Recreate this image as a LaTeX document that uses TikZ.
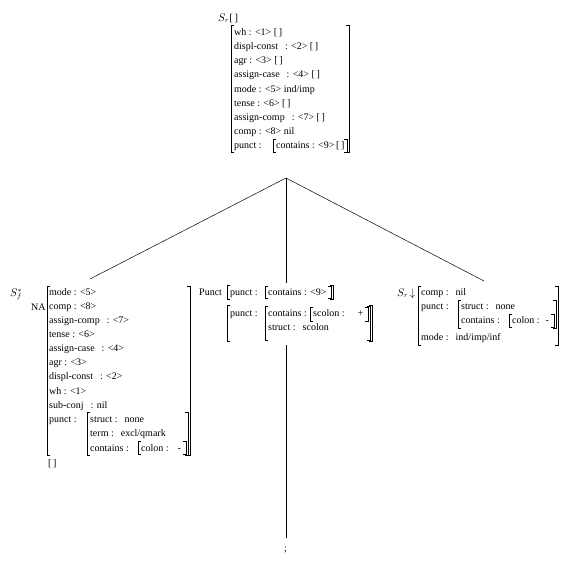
\documentclass[tikz,border=0pt]{standalone}
\usepackage{fontspec}
\setmainfont{Liberation Serif}
\begin{document}
\begin{tikzpicture}[x=1pt,y=-1pt,
  txt/.style={anchor=base west,inner sep=0pt,font=\fontsize{10}{12}\selectfont},
  lab/.style={anchor=base west,inner sep=0pt,font=\fontsize{10.5}{12}\selectfont},
  br/.style={line width=0.6pt},
  edge/.style={line width=0.5pt}]
\useasboundingbox (0,0) rectangle (571,563);
\newcommand{\avmL}[3]{\draw[br] (#1+3,#2) -- (#1,#2) -- (#1,#3) -- (#1+3,#3);}
\newcommand{\avmR}[3]{\draw[br] (#1-3,#2) -- (#1,#2) -- (#1,#3) -- (#1-3,#3);}
\newcommand{\gp}{\hspace{7pt}}
% ---------- root ----------
\node[lab] (root) at (218,21) {$S_r$[\,]};
\avmL{231}{25}{152}\avmR{349}{25}{152}
\node[txt] (r1) at (234,35) {wh : <1> [\,]};
\node[txt] (r2) at (234,49) {displ-const\gp: <2> [\,]};
\node[txt] (r3) at (234,63) {agr : <3> [\,]};
\node[txt] (r4) at (234,77) {assign-case\gp: <4> [\,]};
\node[txt] (r5) at (234,92) {mode : <5> ind/imp};
\node[txt] (r6) at (234,106) {tense : <6> [\,]};
\node[txt] (r7) at (234,120) {assign-comp\gp: <7> [\,]};
\node[txt] (r8) at (234,134) {comp : <8> nil};
\node[txt] (r9) at (234,148) {punct :};
\avmL{273}{139}{152}\avmR{347}{139}{152}
\node[txt] (r9b) at (276,148) {contains : <9>\,[\,]};
% ---------- tree ----------
\coordinate (apex) at (286,178);
\coordinate (lt) at (90,279);
\coordinate (mt) at (286,283);
\coordinate (mb) at (286,345);
\coordinate (me) at (286,538);
\coordinate (rt) at (484,281);
\draw[edge] (apex) -- (lt);
\draw[edge] (apex) -- (mt);
\draw[edge] (apex) -- (rt);
\draw[edge] (mb) -- (me);
\node[txt] (semi) at (284,551) {;};
% ---------- left daughter ----------
\node[lab] (lS) at (10,296) {$S_f^{*}$};
\node[txt] (lNA) at (31,310) {NA};
\avmL{47}{286}{455}\avmR{190}{286}{455}
\node[txt] (l1) at (49,295) {mode : <5>};
\node[txt] (l2) at (49,309) {comp : <8>};
\node[txt] (l3) at (49,323) {assign-comp\gp: <7>};
\node[txt] (l4) at (49,337) {tense : <6>};
\node[txt] (l5) at (49,351) {assign-case\gp: <4>};
\node[txt] (l6) at (49,365) {agr : <3>};
\node[txt] (l7) at (49,379) {displ-const\gp: <2>};
\node[txt] (l8) at (49,394) {wh : <1>};
\node[txt] (l9) at (49,408) {sub-conj\gp: nil};
\node[txt] (l10) at (49,422) {punct :};
\avmL{87}{412}{455}\avmR{188}{412}{455}
\node[txt] (l11) at (90,422) {struct :\gp none};
\node[txt] (l12) at (90,436) {term :\gp excl/qmark};
\node[txt] (l13) at (90,451) {contains :};
\avmL{138}{441}{454}\avmR{186}{441}{454}
\node[txt] (l14) at (141,451) {colon :\hspace{9pt}-};
\node[txt] (l15) at (48,466) {[\,]};
% ---------- middle daughter ----------
\node[txt] (mP) at (199,295) {Punct};
\avmL{227}{285}{299}\avmR{333}{285}{299}
\node[txt] (m1) at (230,295) {punct :};
\avmL{265}{286}{298}\avmR{331}{286}{298}
\node[txt] (m2) at (268,295) {contains : <9>};
\avmL{227}{305}{341}\avmR{372}{305}{341}
\node[txt] (m3) at (230,316) {punct :};
\avmL{265}{306}{340}\avmR{370}{306}{340}
\node[txt] (m4) at (268,316) {contains :};
\avmL{310}{307}{321}\avmR{368}{307}{321}
\node[txt] (m5) at (313,316) {scolon :\hspace{13pt}+};
\node[txt] (m6) at (268,330) {struct :\gp scolon};
% ---------- right daughter ----------
\node[lab] (rS) at (397,296) {$S_r\!\downarrow$};
\avmL{418}{286}{345}\avmR{558}{286}{345}
\node[txt] (q1) at (421,295) {comp :\gp nil};
\node[txt] (q2) at (421,309) {punct :};
\avmL{458}{300}{328}\avmR{556}{300}{328}
\node[txt] (q3) at (461,309) {struct :\gp none};
\node[txt] (q4) at (461,323) {contains :};
\avmL{509}{314}{327}\avmR{554}{314}{327}
\node[txt] (q5) at (512,323) {colon :\hspace{6pt}-};
\node[txt] (q6) at (421,340) {mode :\gp ind/imp/inf};
\end{tikzpicture}
\end{document}
